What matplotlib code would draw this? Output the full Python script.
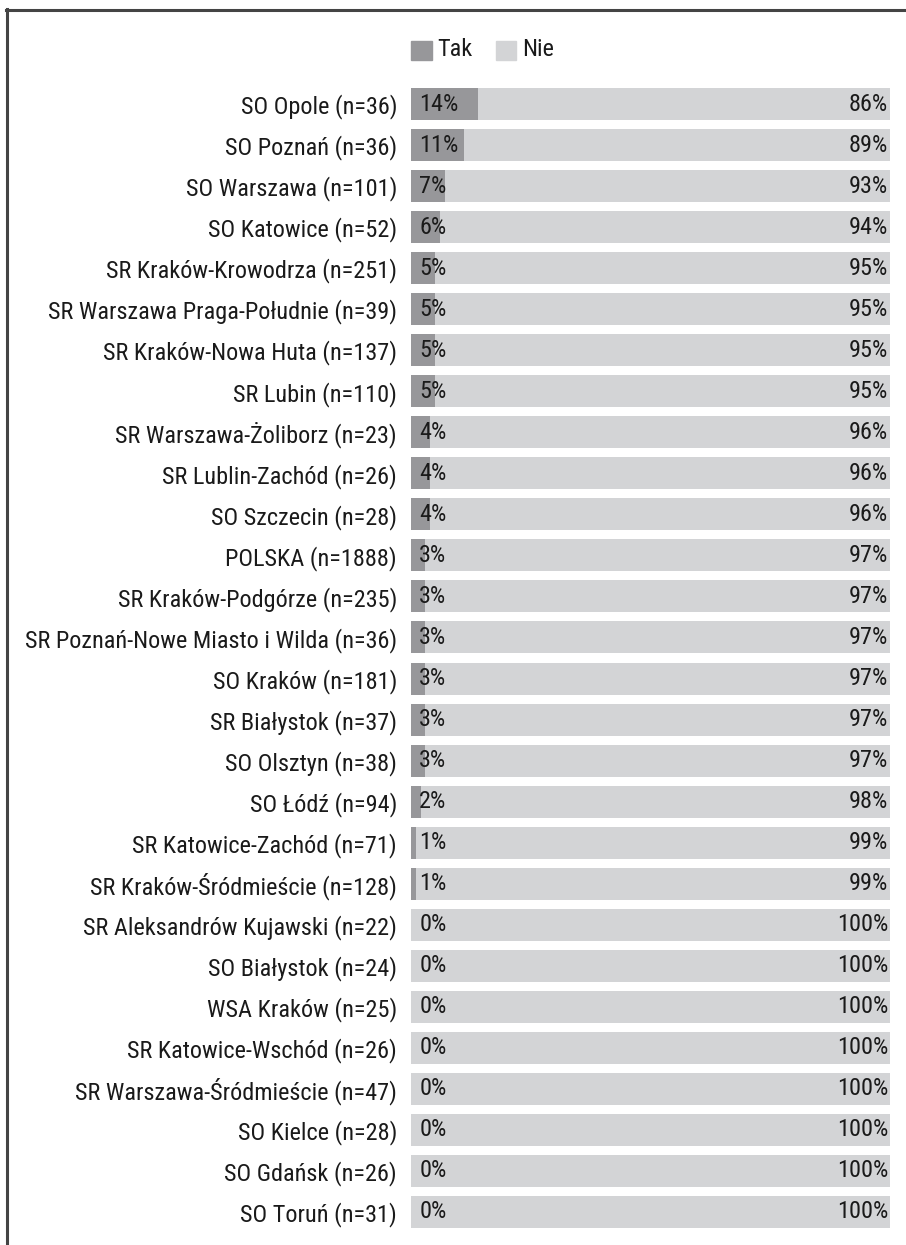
import matplotlib.pyplot as plt
from matplotlib.patches import Rectangle
from matplotlib.lines import Line2D

# Share of answers "Tak" / "Nie" per court
courts = [
    "SO Opole (n=36)", "SO Poznań (n=36)", "SO Warszawa (n=101)", "SO Katowice (n=52)",
    "SR Kraków-Krowodrza (n=251)", "SR Warszawa Praga-Południe (n=39)",
    "SR Kraków-Nowa Huta (n=137)", "SR Lubin (n=110)", "SR Warszawa-Żoliborz (n=23)",
    "SR Lublin-Zachód (n=26)", "SO Szczecin (n=28)", "POLSKA (n=1888)",
    "SR Kraków-Podgórze (n=235)", "SR Poznań-Nowe Miasto i Wilda (n=36)",
    "SO Kraków (n=181)", "SR Białystok (n=37)", "SO Olsztyn (n=38)", "SO Łódź (n=94)",
    "SR Katowice-Zachód (n=71)", "SR Kraków-Śródmieście (n=128)",
    "SR Aleksandrów Kujawski (n=22)", "SO Białystok (n=24)", "WSA Kraków (n=25)",
    "SR Katowice-Wschód (n=26)", "SR Warszawa-Śródmieście (n=47)", "SO Kielce (n=28)",
    "SO Gdańsk (n=26)", "SO Toruń (n=31)",
]
tak = [14, 11, 7, 6, 5, 5, 5, 5, 4, 4, 4, 3, 3, 3, 3, 3, 3, 2, 1, 1, 0, 0, 0, 0, 0, 0, 0, 0]
nie = [86, 89, 93, 94, 95, 95, 95, 95, 96, 96, 96, 97, 97, 97, 97, 97, 97, 98, 99, 99,
       100, 100, 100, 100, 100, 100, 100, 100]

TAK_COLOR = "#97979a"
NIE_COLOR = "#d3d4d6"
TEXT_COLOR = "#1a1a1a"

plt.rcParams['font.family'] = ['Roboto Condensed', 'DejaVu Sans']
plt.rcParams['font.weight'] = 'regular'
FS = 17.5      # court names
FS_PCT = 17.5  # percentages in the bars

W, H = 906, 1245
fig = plt.figure(figsize=(W / 100, H / 100), dpi=100)

# frame lines (top and left) as in the original export
fig.add_artist(Line2D([7 / W, 7 / W], [0, 1 - 9 / H], color="#444444", lw=2.2))
fig.add_artist(Line2D([6 / W, 1], [1 - 9.5 / H, 1 - 9.5 / H], color="#444444", lw=2.2))

ax_left, ax_right = 411 / W, 890 / W
ax_top, ax_bot = 83.5 / H, 1232.5 / H
ax = fig.add_axes([ax_left, 1 - ax_bot, ax_right - ax_left, ax_bot - ax_top])

y = list(range(len(courts)))
ax.barh(y, tak, height=0.78, color=TAK_COLOR, linewidth=0)
ax.barh(y, nie, left=tak, height=0.78, color=NIE_COLOR, linewidth=0)

for i in y:
    ax.text(1.7, i, f"{tak[i]}%", ha="left", va="center", fontsize=FS_PCT, color=TEXT_COLOR)
    ax.text(99.6, i, f"{nie[i]}%", ha="right", va="center", fontsize=FS_PCT, color=TEXT_COLOR)

ax.set_xlim(0, 100)
ax.set_ylim(len(courts) - 0.5, -0.5)
ax.set_yticks(y)
ax.set_yticklabels(courts, fontsize=FS, color=TEXT_COLOR)
ax.tick_params(axis="y", length=0, pad=10)
ax.set_xticks([])
for s in ax.spines.values():
    s.set_visible(False)

# legend
fig.add_artist(Rectangle((411 / W, 1 - 60 / H), 21 / W, 19 / H, color=TAK_COLOR, transform=fig.transFigure))
fig.text(437 / W, 1 - 50 / H, "Tak", ha="left", va="center", fontsize=FS_PCT, color=TEXT_COLOR)
fig.add_artist(Rectangle((496 / W, 1 - 60 / H), 20 / W, 19 / H, color=NIE_COLOR, transform=fig.transFigure))
fig.text(522 / W, 1 - 50 / H, "Nie", ha="left", va="center", fontsize=FS_PCT, color=TEXT_COLOR)

fig.savefig("out.png", dpi=100)
